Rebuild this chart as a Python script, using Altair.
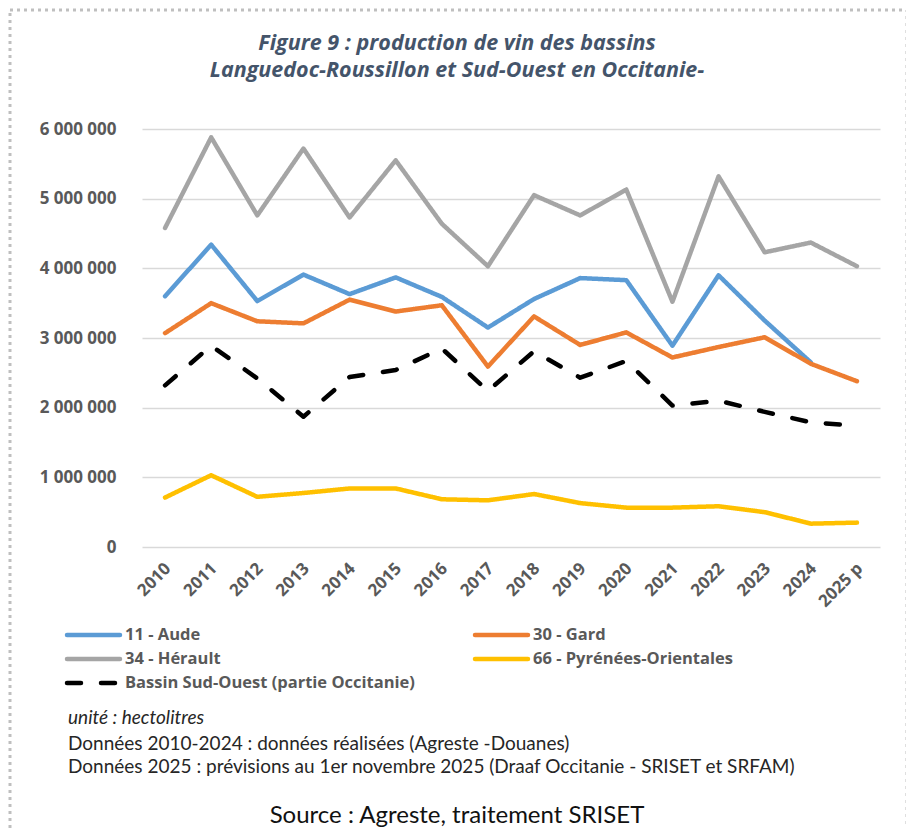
import altair as alt
import pandas as pd

years = ["2010", "2011", "2012", "2013", "2014", "2015", "2016", "2017",
         "2018", "2019", "2020", "2021", "2022", "2023", "2024", "2025 p"]

series_names = ["11 - Aude", "30 - Gard", "34 - Hérault",
                "66 - Pyrénées-Orientales", "Bassin Sud-Ouest (partie Occitanie)"]

aude = [3600000, 4340000, 3530000, 3910000, 3630000, 3870000, 3590000, 3150000,
        3560000, 3860000, 3830000, 2890000, 3900000, 3250000, 2650000, None]
gard = [3070000, 3500000, 3240000, 3210000, 3550000, 3380000, 3470000, 2590000,
        3310000, 2900000, 3080000, 2720000, 2870000, 3010000, 2630000, 2380000]
herault = [4580000, 5880000, 4760000, 5720000, 4730000, 5550000, 4640000, 4030000,
           5050000, 4760000, 5130000, 3520000, 5320000, 4230000, 4370000, 4030000]
pyrenees = [710000, 1030000, 720000, 775000, 840000, 840000, 685000, 670000,
            760000, 630000, 565000, 565000, 585000, 500000, 335000, 350000]
sud_ouest = [2320000, 2890000, 2420000, 1870000, 2440000, 2540000, 2850000, 2240000,
             2810000, 2430000, 2670000, 2030000, 2100000, 1940000, 1790000, 1740000]

colors = ["#5B9BD5", "#ED7D31", "#A5A5A5", "#FFC000", "#000000"]
dashes = [[1, 0], [1, 0], [1, 0], [1, 0], [14, 20]]

# legend grid (column, row) of each series, as in the reference
legend_col = [0, 1, 0, 1, 0]
legend_row = [0, 0, 1, 1, 2]

rows = []
for name, vals in zip(series_names, [aude, gard, herault, pyrenees, sud_ouest]):
    for y, v in zip(years, vals):
        rows.append({"annee": y, "serie": name, "valeur": v})
df = pd.DataFrame(rows)

LABEL_COLOR = "#595959"
color_scale = alt.Scale(domain=series_names, range=colors)
dash_scale = alt.Scale(domain=series_names, range=dashes)

lines = alt.Chart(df).mark_line(strokeWidth=4.5, strokeJoin="round", strokeCap="round").encode(
    x=alt.X("annee:O", sort=years, title=None,
            scale=alt.Scale(type="point", padding=0.5),
            axis=alt.Axis(labelAngle=-45, labelAlign="right", labelBaseline="top",
                          labelFont="Open Sans", labelFontSize=17, labelFontWeight="bold",
                          labelColor=LABEL_COLOR, labelPadding=13, labelOffset=-3,
                          ticks=False, tickSize=0, domain=False, grid=False)),
    y=alt.Y("valeur:Q", title=None,
            scale=alt.Scale(domain=[0, 6000000], nice=False),
            axis=alt.Axis(values=[0, 1000000, 2000000, 3000000, 4000000, 5000000, 6000000],
                          labelExpr="replace(format(datum.value, ','), regexp(',', 'g'), ' ')",
                          labelFont="Open Sans", labelFontSize=17, labelFontWeight="bold",
                          labelColor=LABEL_COLOR, labelPadding=26, ticks=False, tickSize=0,
                          domain=False, grid=True, gridColor="#D9D9D9", gridWidth=1.3)),
    color=alt.Color("serie:N", scale=color_scale, legend=None),
    strokeDash=alt.StrokeDash("serie:N", scale=dash_scale, legend=None),
    order=alt.Order("serie:N"),
)

# manual legend, laid out as in the reference
leg_df = pd.DataFrame({"serie": series_names, "col": legend_col, "row": legend_row})
leg_base = alt.Chart(leg_df).transform_calculate(
    x0="datum.col * 408 - 75",
    x1="datum.col * 408 - 22",
    xt="datum.col * 408 - 17",
    yy="506 + datum.row * 24",
)
leg_lines = leg_base.mark_rule(strokeWidth=4.5, strokeCap="round").encode(
    x=alt.X("x0:Q", scale=None), x2="x1:Q",
    y=alt.Y("yy:Q", scale=None),
    color=alt.Color("serie:N", scale=color_scale, legend=None),
    strokeDash=alt.StrokeDash("serie:N", scale=dash_scale, legend=None),
)
leg_text = leg_base.mark_text(align="left", baseline="middle", font="Open Sans",
                              fontSize=16.5, fontWeight="bold", color=LABEL_COLOR).encode(
    x=alt.X("xt:Q", scale=None), y=alt.Y("yy:Q", scale=None), text="serie:N")


def txt(s, x, y, size, color="#262626", weight="normal", style="normal", align="left", font="Lato"):
    return alt.Chart(alt.Data(values=[{}])).mark_text(
        align=align, baseline="middle", fontSize=size, font=font,
        fontWeight=weight, fontStyle=style, color=color
    ).encode(x=alt.value(x), y=alt.value(y), text=alt.value(s))


title1 = txt("Figure 9 : production de vin des bassins", 315, -85, 21.5,
             color="#44546A", weight="bold", style="italic", align="center", font="Open Sans")
title2 = txt("Languedoc-Roussillon et Sud-Ouest en Occitanie-", 315, -58, 21.5,
             color="#44546A", weight="bold", style="italic", align="center", font="Open Sans")
note1 = txt("unité : hectolitres", -74, 589, 19, style="italic")
note2 = txt("Données 2010-2024 : données réalisées (Agreste -Douanes)", -74, 615, 19)
note3 = txt("Données 2025 : prévisions au 1er novembre 2025 (Draaf  Occitanie - SRISET et SRFAM)",
            -74, 638, 19)
source = txt("Source :  Agreste, traitement SRISET", 315, 687, 24, color="#111111", align="center")

border = alt.Chart(alt.Data(values=[{}])).mark_rect(
    fillOpacity=0, stroke="#BFBFBF", strokeWidth=3, strokeDash=[3, 4]
).encode(x=alt.value(-132), x2=alt.value(765), y=alt.value(-119), y2=alt.value(730))

chart = alt.layer(border, lines, leg_lines, leg_text, title1, title2,
                  note1, note2, note3, source).properties(
    width=738, height=418,
    autosize=alt.AutoSizeParams(type="none"),
    padding={"left": 134, "top": 121, "right": 26, "bottom": 281},
).configure_view(stroke=None)

chart.save("out.html", embed_options={"renderer": "svg", "actions": False})
